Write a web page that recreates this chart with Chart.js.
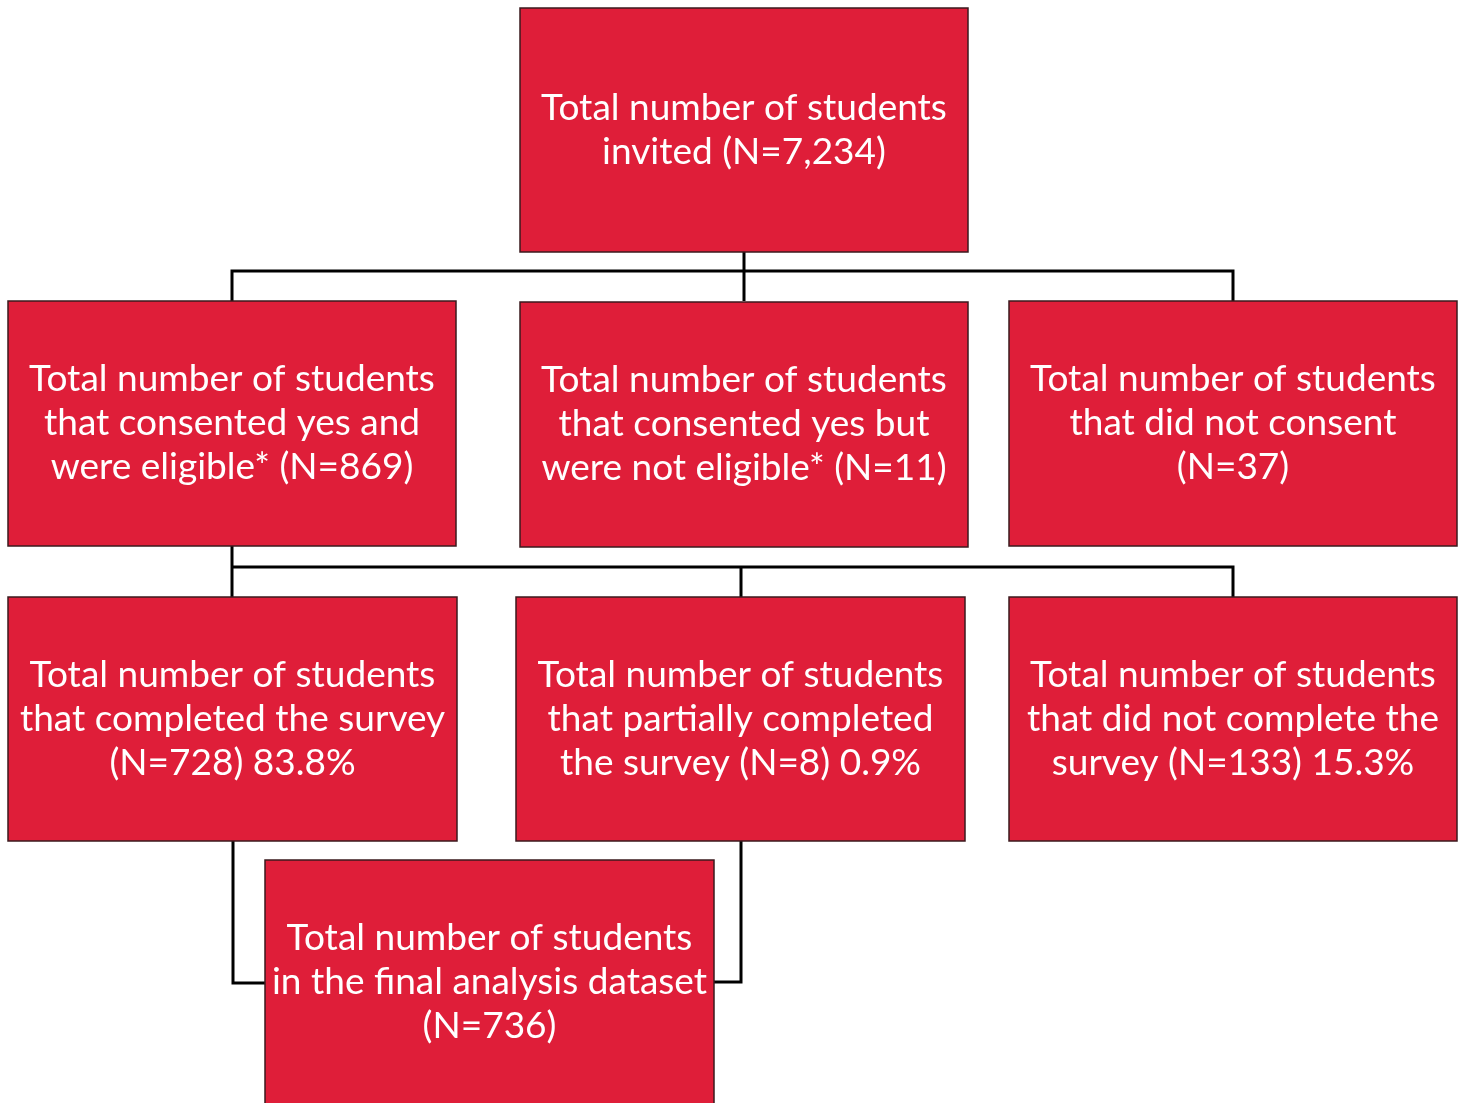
<!DOCTYPE html>
<html>
<head>
<meta charset="utf-8">
<script src="https://cdn.jsdelivr.net/npm/chart.js@4"></script>
<style>
  html, body { margin: 0; padding: 0; background: #fff; }
  #flow { display: block; }
</style>
</head>
<body>
<canvas id="flow" width="1465" height="1103"></canvas>
<script>
// box texts, one entry per box, one string per line
const boxLabels = [
    ["Total number of students", "invited (N=7,234)"],
    ["Total number of students", "that consented yes and", "were eligible* (N=869)"],
    ["Total number of students", "that consented yes but", "were not eligible* (N=11)"],
    ["Total number of students", "that did not consent", "(N=37)"],
    ["Total number of students", "that completed the survey", "(N=728) 83.8%"],
    ["Total number of students", "that partially completed", "the survey (N=8) 0.9%"],
    ["Total number of students", "that did not complete the", "survey (N=133) 15.3%"],
    ["Total number of students", "in the final analysis dataset", "(N=736)"]
];

// box edges in page units
const boxLeft   = [520, 8, 520, 1009, 8, 516, 1009, 265];
const boxRight  = [968, 456, 968, 1457, 457, 965, 1457, 714];
const boxTop    = [8, 301, 302, 301, 597, 597, 597, 860];
const boxBottom = [252, 546, 547, 546, 841, 841, 841, 1104];

// connector polylines
const links = [
    [[744, 252], [744, 301]],
    [[232, 301], [232, 271], [1233, 271], [1233, 301]],
    [[232, 546], [232, 597]],
    [[232, 567], [1233, 567], [1233, 597]],
    [[741, 567], [741, 597]],
    [[233, 841], [233, 983], [265, 983]],
    [[741, 841], [741, 982], [714, 982]]
];

const fillColor = '#df1e39';
const edgeColor = '#3b1a1e';
const fontFamily = 'Lato, "Open Sans", sans-serif';

function fitFontSize(ctx){
    // scale font so the first line is as wide as in the picture
    ctx.font = '100px ' + fontFamily;
    const w = ctx.measureText("Total number of students").width;
    return 100 * 406 / w;
}

const boxPlugin = {
    id: 'boxes',
    afterDatasetsDraw(chart) {
        const ctx = chart.ctx;
        const xs = chart.scales.x;
        const ys = chart.scales.y;
        const size = fitFontSize(ctx);
        const lineH = 44;
        ctx.save();
        for (let i = 0; i < boxLabels.length; i++) {
            const x0 = xs.getPixelForValue(boxLeft[i]);
            const x1 = xs.getPixelForValue(boxRight[i]);
            const y0 = ys.getPixelForValue(boxTop[i]);
            const y1 = ys.getPixelForValue(boxBottom[i]);
            ctx.fillStyle = fillColor;
            ctx.fillRect(x0, y0, x1 - x0, y1 - y0);
            ctx.strokeStyle = edgeColor;
            ctx.lineWidth = 1.5;
            ctx.strokeRect(x0, y0, x1 - x0, y1 - y0);

            ctx.fillStyle = '#ffffff';
            ctx.font = size + 'px ' + fontFamily;
            ctx.textAlign = 'center';
            ctx.textBaseline = 'middle';
            const lines = boxLabels[i];
            const cx = (x0 + x1) / 2;
            const cy = (y0 + y1) / 2;
            const start = cy - (lines.length - 1) * lineH / 2;
            lines.forEach(function(t, k) {
                ctx.fillText(t, cx, start + k * lineH);
            });
        }
        ctx.restore();
    }
};

const datasets = links.map(function(pts) {
    return {
        type: 'line',
        data: pts.map(p => ({x: p[0], y: p[1]})),
        borderColor: '#000000',
        borderWidth: 3,
        pointRadius: 0,
        tension: 0,
        fill: false
    };
});

window.onload = function() {
    const ctx = document.getElementById('flow').getContext('2d');
    new Chart(ctx, {
        type: 'scatter',
        data: { datasets: datasets },
        options: {
            responsive: false,
            animation: false,
            layout: { padding: 0 },
            plugins: { legend: { display: false }, tooltip: { enabled: false } },
            scales: {
                x: { type: 'linear', min: 0, max: 1465, display: false },
                y: { type: 'linear', min: 0, max: 1103, reverse: true, display: false }
            }
        },
        plugins: [boxPlugin]
    });
};
</script>
</body>
</html>
